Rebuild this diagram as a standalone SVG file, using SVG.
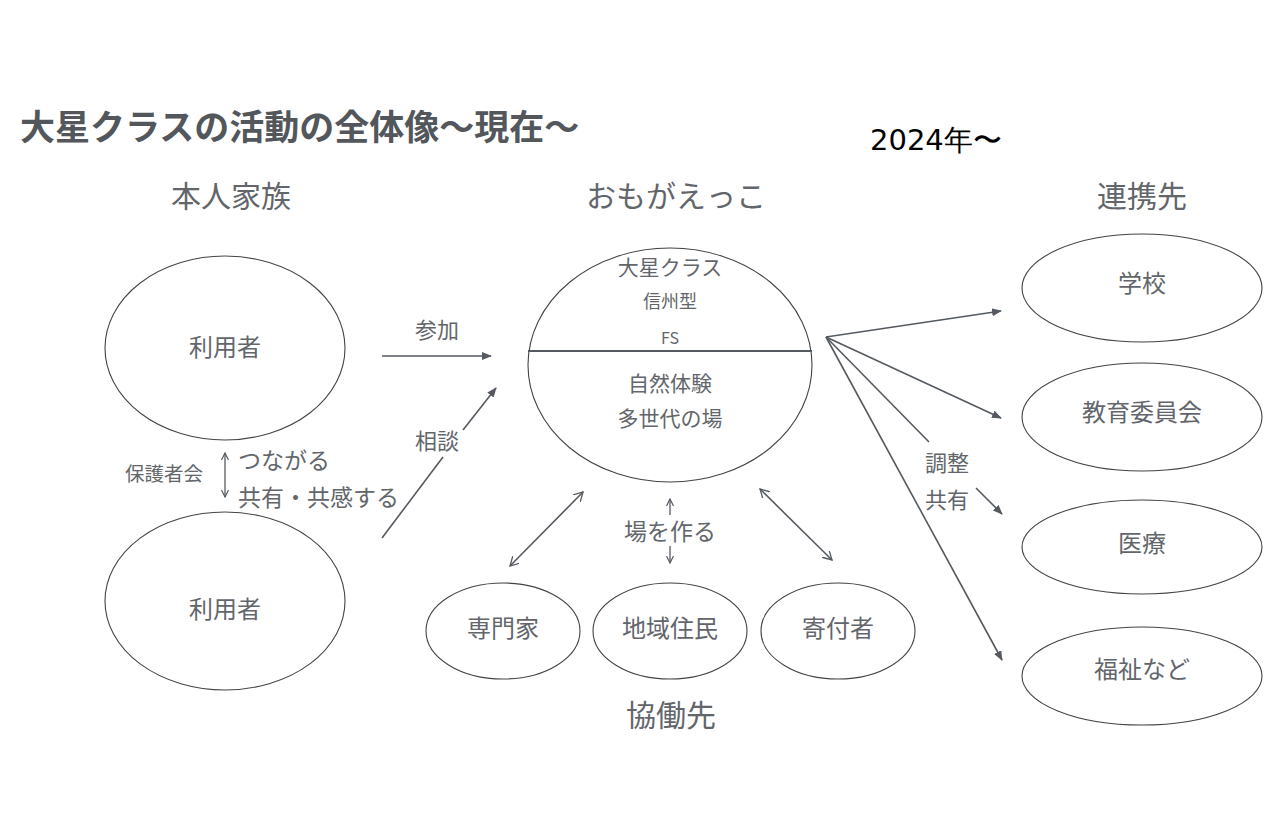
<svg xmlns="http://www.w3.org/2000/svg" width="1280" height="840" viewBox="0 0 1280 840">
<defs>
<marker id="ah" markerWidth="10" markerHeight="8" refX="9" refY="4" orient="auto" markerUnits="userSpaceOnUse">
<path d="M0,0 L10,4 L0,8 Z" fill="#555a60"/>
</marker>
<marker id="ao" markerWidth="10" markerHeight="10" refX="9" refY="5" orient="auto" markerUnits="userSpaceOnUse">
<path d="M0,0 L9,5 L0,10" fill="none" stroke="#555a60" stroke-width="1.3"/>
</marker>
<marker id="as" markerWidth="10" markerHeight="10" refX="1" refY="5" orient="auto" markerUnits="userSpaceOnUse">
<path d="M10,0 L1,5 L10,10" fill="none" stroke="#555a60" stroke-width="1.3"/>
</marker>
<marker id="so" markerWidth="8" markerHeight="8" refX="7" refY="4" orient="auto" markerUnits="userSpaceOnUse">
<path d="M0,0.5 L7,4 L0,7.5" fill="none" stroke="#555a60" stroke-width="1.2"/>
</marker>
<marker id="ss" markerWidth="8" markerHeight="8" refX="1" refY="4" orient="auto" markerUnits="userSpaceOnUse">
<path d="M8,0.5 L1,4 L8,7.5" fill="none" stroke="#555a60" stroke-width="1.2"/>
</marker>
</defs>
<style>
text{font-family:"Noto Sans CJK JP","Noto Sans",sans-serif;fill:#62666b;}
.el{fill:#fff;stroke:#444;stroke-width:1.1;}
.t{font-size:24px;text-anchor:middle;}
.h{font-size:30px;text-anchor:middle;}
.s{font-size:22px;}
.m{font-size:23px;}
.ln{stroke:#555a60;stroke-width:1.6;fill:none;}
.sm{stroke:#555a60;stroke-width:1.3;fill:none;}
</style>
<rect width="1280" height="840" fill="#fff"/>
<text x="20" y="140" style="font-size:35px;font-weight:bold;fill:#53575c">大星クラスの活動の全体像〜現在〜</text>
<text x="870" y="150" style="font-family:'DejaVu Sans',sans-serif;font-size:29px;fill:#000">2024年〜</text>
<text class="h" x="231" y="207">本人家族</text>
<text class="h" x="676" y="207">おもがえっこ</text>
<text class="h" x="1142" y="207">連携先</text>
<text class="h" x="671" y="726">協働先</text>

<g id="connectors">
<line class="ln" x1="382" y1="356" x2="491" y2="356" marker-end="url(#ah)"/>
<line class="ln" x1="382" y1="538" x2="443" y2="457"/>
<line class="ln" x1="463" y1="430" x2="496" y2="388" marker-end="url(#ah)"/>
<line class="ln" x1="510" y1="566" x2="583" y2="492" marker-start="url(#as)" marker-end="url(#ao)"/>
<line class="ln" x1="760" y1="489" x2="832" y2="560" marker-start="url(#as)" marker-end="url(#ao)"/>
<line class="ln" x1="826" y1="337" x2="1001" y2="311" marker-end="url(#ah)"/>
<line class="ln" x1="826" y1="337" x2="1001" y2="418" marker-end="url(#ah)"/>
<line class="ln" x1="826" y1="337" x2="929" y2="442"/>
<line class="ln" x1="976" y1="488" x2="1002" y2="514" marker-end="url(#ah)"/>
<line class="ln" x1="826" y1="337" x2="1002" y2="660" marker-end="url(#ah)"/>
<line class="sm" x1="225" y1="453" x2="225" y2="497" marker-start="url(#ss)" marker-end="url(#so)"/>
<line class="sm" x1="670" y1="515" x2="670" y2="499" marker-end="url(#so)"/>
<line class="sm" x1="670" y1="546" x2="670" y2="563" marker-end="url(#so)"/>
</g>

<g id="user1"><ellipse class="el" cx="225" cy="348" rx="120" ry="92"/><text class="t" x="225" y="356">利用者</text></g>
<g id="user2"><ellipse class="el" cx="225" cy="601" rx="120" ry="89"/><text class="t" x="225" y="618">利用者</text></g>
<g id="omogaekko">
<ellipse class="el" cx="670" cy="365" rx="142" ry="117"/>
<line x1="528" y1="351" x2="812" y2="351" stroke="#555a60" stroke-width="2"/>
<text x="670" y="275" style="font-size:21px;text-anchor:middle">大星クラス</text>
<text x="670" y="308" style="font-size:18px;text-anchor:middle">信州型</text>
<text x="670" y="344" style="font-size:16px;text-anchor:middle">FS</text>
<text x="670" y="391" style="font-size:21px;text-anchor:middle">自然体験</text>
<text x="670" y="426" style="font-size:21px;text-anchor:middle">多世代の場</text>
</g>
<g id="school"><ellipse class="el" cx="1142" cy="288" rx="120" ry="54"/><text class="t" x="1142" y="292">学校</text></g>
<g id="boe"><ellipse class="el" cx="1142" cy="417" rx="120" ry="54"/><text class="t" x="1142" y="421">教育委員会</text></g>
<g id="medical"><ellipse class="el" cx="1142" cy="547" rx="120" ry="47"/><text class="t" x="1142" y="552">医療</text></g>
<g id="welfare"><ellipse class="el" cx="1142" cy="676" rx="120" ry="49"/><text class="t" x="1142" y="678">福祉など</text></g>
<g id="expert"><ellipse class="el" cx="503" cy="631" rx="77" ry="48"/><text class="t" x="503" y="637">専門家</text></g>
<g id="residents"><ellipse class="el" cx="670" cy="631" rx="77" ry="48"/><text class="t" x="670" y="637">地域住民</text></g>
<g id="donor"><ellipse class="el" cx="838" cy="631" rx="77" ry="48"/><text class="t" x="838" y="637">寄付者</text></g>

<g id="labels">
<text class="s" x="437" y="338" text-anchor="middle">参加</text>
<text class="s" x="437" y="449" text-anchor="middle">相談</text>
<text x="125" y="481" style="font-size:19.5px">保護者会</text>
<text class="m" x="238" y="469">つながる</text>
<text class="m" x="238" y="506">共有・共感する</text>
<text class="m" x="670" y="540" text-anchor="middle">場を作る</text>
<text class="s" x="925" y="471">調整</text>
<text class="s" x="925" y="508">共有</text>
</g>
</svg>
